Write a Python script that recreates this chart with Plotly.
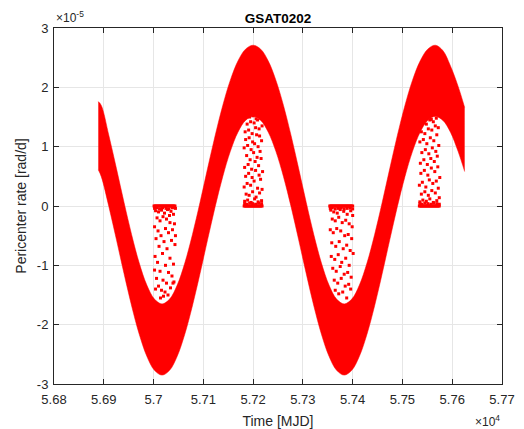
import plotly.graph_objects as go

# Envelope of the pericenter-rate band (rate in 1e-5 rad/d, time in MJD)
band_time = [56889, 56895, 56910.25, 56925.5, 56940.75, 56956, 56971.25, 56986.5, 57001.75,
             57017, 57032.25, 57047.5, 57062.75, 57078, 57093.25, 57108.5, 57123.75, 57139,
             57154.25, 57169.5, 57184.75, 57200, 57215.25, 57230.5, 57245.75, 57261, 57276.25,
             57291.5, 57306.75, 57322, 57337.25, 57352.5, 57367.75, 57383, 57398.25, 57413.5,
             57428.75, 57444, 57459.25, 57474.5, 57489.75, 57505, 57520.25, 57535.5, 57550.75,
             57566, 57581.25, 57596.5, 57611.75, 57625]
band_upper = [1.76, 1.695, 1.188, 0.63, 0.058, -0.485, -0.961, -1.333, -1.569,
              -1.65, -1.569, -1.333, -0.961, -0.485, 0.058, 0.63, 1.188, 1.695,
              2.121, 2.443, 2.643, 2.71, 2.643, 2.443, 2.121, 1.695, 1.188,
              0.63, 0.058, -0.485, -0.961, -1.333, -1.569, -1.65, -1.569, -1.333,
              -0.961, -0.485, 0.058, 0.63, 1.188, 1.695, 2.121, 2.443, 2.643,
              2.71, 2.62, 2.36, 2.02, 1.66]
band_lower = [0.61, 0.495, -0.012, -0.57, -1.142, -1.685, -2.161, -2.533, -2.769,
              -2.85, -2.769, -2.533, -2.161, -1.685, -1.142, -0.57, -0.012, 0.495,
              0.921, 1.243, 1.443, 1.51, 1.443, 1.243, 0.921, 0.495, -0.012,
              -0.57, -1.142, -1.685, -2.161, -2.533, -2.769, -2.85, -2.769, -2.533,
              -2.161, -1.685, -1.142, -0.57, -0.012, 0.495, 0.921, 1.243, 1.443,
              1.51, 1.443, 1.243, 0.921, 0.58]

# Sampled rates inside the four observation windows
win1_time = [57001, 57003, 57005, 57007, 57009, 57011, 57013, 57015, 57017, 57019, 57021,
             57023, 57025, 57027, 57029, 57031, 57033, 57035, 57037, 57039, 57041, 57043,
             57002, 57006, 57012, 57018, 57025, 57031, 57038, 57044,
             57004, 57010, 57016, 57022, 57028, 57035, 57040, 57007, 57013, 57019, 57026,
             57033, 57042, 57002, 57009, 57024, 57030, 57038, 57015, 57005, 57021, 57036,
             57011, 57027, 57043, 57003, 57018, 57033, 57008, 57024, 57040, 57002, 57013,
             57030, 57037, 57006, 57019, 57026, 57041, 57010, 57016, 57023, 57034, 57004,
             57014, 57020, 57029, 57039, 57032, 57044]
win1_rate = [0, 0, 0, 0, 0, 0, 0, 0, 0, 0, 0,
             0, 0, 0, 0, 0, 0, 0, 0, 0, 0, 0,
             -0.04, -0.03, -0.05, -0.03, -0.04, -0.05, -0.03, -0.04,
             -0.08, -0.1, -0.07, -0.12, -0.06, -0.09, -0.14, -0.2, -0.25, -0.18, -0.22,
             -0.28, -0.3, -0.35, -0.42, -0.38, -0.45, -0.4, -0.5, -0.55, -0.6, -0.58,
             -0.68, -0.72, -0.65, -0.85, -0.8, -0.88, -0.95, -1.0, -0.98, -1.08, -1.1,
             -1.12, -1.18, -1.22, -1.25, -1.3, -1.28, -1.35, -1.42, -1.45, -1.38, -1.4,
             -1.55, -1.52, -1.5, -1.3, -0.16, -0.5]

win2_time = [57182, 57184, 57186, 57188, 57190, 57192, 57194, 57196, 57198, 57200, 57202,
             57204, 57206, 57208, 57210, 57212, 57214, 57216, 57218,
             57183, 57187, 57193, 57199, 57205, 57211, 57217,
             57183, 57189, 57196, 57203, 57210, 57217, 57186, 57192, 57199, 57206, 57213,
             57218, 57182, 57188, 57195, 57202, 57209, 57215, 57185, 57191, 57198, 57205,
             57212, 57219, 57183, 57190, 57197, 57204, 57211, 57216, 57187, 57194, 57201,
             57208, 57214, 57182, 57189, 57196, 57203, 57210, 57217, 57185, 57192, 57199,
             57207, 57213, 57184, 57191, 57198, 57205, 57212, 57218, 57188, 57195, 57202,
             57209, 57215, 57193, 57200, 57206]
win2_rate = [0, 0, 0, 0, 0, 0, 0, 0, 0, 0, 0,
             0, 0, 0, 0, 0, 0, 0, 0,
             0.04, 0.03, 0.05, 0.04, 0.03, 0.05, 0.04,
             0.08, 0.1, 0.06, 0.12, 0.07, 0.09, 0.2, 0.18, 0.24, 0.15, 0.22,
             0.28, 0.32, 0.38, 0.35, 0.42, 0.3, 0.45, 0.5, 0.55, 0.48, 0.6,
             0.52, 0.58, 0.65, 0.7, 0.62, 0.75, 0.68, 0.8, 0.85, 0.78, 0.9,
             0.82, 0.92, 0.98, 1.02, 0.95, 1.05, 1.0, 1.1, 1.12, 1.15, 1.08,
             1.2, 1.18, 1.25, 1.28, 1.22, 1.32, 1.3, 1.35, 1.38, 1.42, 1.4,
             1.45, 1.48, 1.5, 1.52, 1.47]

win3_time = [57354, 57356, 57358, 57360, 57362, 57364, 57366, 57368, 57370, 57372, 57374,
             57376, 57378, 57380, 57382, 57384, 57386, 57388, 57390, 57392, 57394, 57396,
             57398, 57400,
             57355, 57359, 57365, 57371, 57377, 57383, 57389, 57395, 57400,
             57356, 57362, 57369, 57375, 57382, 57389, 57396, 57400, 57359, 57365, 57372,
             57379, 57386, 57393, 57399, 57355, 57361, 57368, 57376, 57384, 57391, 57398,
             57358, 57366, 57373, 57381, 57388, 57395, 57401, 57357, 57364, 57371, 57378,
             57386, 57393, 57360, 57367, 57375, 57383, 57390, 57397, 57363, 57370, 57377,
             57385, 57392, 57365, 57372, 57380, 57388, 57396]
win3_rate = [0, 0, 0, 0, 0, 0, 0, 0, 0, 0, 0,
             0, 0, 0, 0, 0, 0, 0, 0, 0, 0, 0,
             0, 0,
             -0.04, -0.03, -0.05, -0.04, -0.03, -0.05, -0.04, -0.03, -0.05,
             -0.07, -0.1, -0.12, -0.06, -0.09, -0.14, -0.08, -0.16, -0.22, -0.25, -0.19,
             -0.28, -0.24, -0.3, -0.35, -0.4, -0.45, -0.38, -0.42, -0.5, -0.48, -0.55,
             -0.62, -0.68, -0.6, -0.72, -0.66, -0.75, -0.8, -0.85, -0.9, -0.82, -0.95,
             -0.88, -1.0, -1.05, -1.1, -1.02, -1.15, -1.12, -1.2, -1.25, -1.3, -1.22,
             -1.35, -1.32, -1.42, -1.48, -1.45, -1.55, -1.4]

win4_time = [57534, 57536, 57538, 57540, 57542, 57544, 57546, 57548, 57550, 57552, 57554,
             57556, 57558, 57560, 57562, 57564, 57566, 57568, 57570, 57572, 57574,
             57535, 57539, 57545, 57551, 57557, 57563, 57569, 57574,
             57535, 57541, 57548, 57555, 57562, 57569, 57574, 57538, 57545, 57552, 57559,
             57566, 57572, 57534, 57540, 57547, 57554, 57561, 57568, 57575, 57537, 57544,
             57551, 57558, 57565, 57571, 57536, 57543, 57550, 57557, 57564, 57570, 57539,
             57546, 57553, 57560, 57567, 57573, 57535, 57542, 57549, 57556, 57563, 57569,
             57538, 57545, 57552, 57559, 57566, 57572, 57541, 57548, 57555, 57562, 57568,
             57544, 57551, 57558, 57565, 57560, 57563]
win4_rate = [0, 0, 0, 0, 0, 0, 0, 0, 0, 0, 0,
             0, 0, 0, 0, 0, 0, 0, 0, 0, 0,
             0.04, 0.03, 0.05, 0.04, 0.03, 0.05, 0.04, 0.03,
             0.07, 0.1, 0.08, 0.12, 0.06, 0.09, 0.14, 0.2, 0.24, 0.18, 0.26,
             0.22, 0.3, 0.35, 0.4, 0.32, 0.44, 0.38, 0.42, 0.48, 0.55, 0.6,
             0.52, 0.64, 0.58, 0.66, 0.72, 0.78, 0.7, 0.8, 0.75, 0.84, 0.9,
             0.95, 0.88, 0.98, 0.92, 1.02, 1.08, 1.12, 1.05, 1.15, 1.1, 1.2,
             1.25, 1.22, 1.3, 1.28, 1.35, 1.32, 1.4, 1.38, 1.45, 1.42, 1.48,
             1.5, 1.52, 1.46, 1.55, 1.56, 1.58]

x_ticks = [56800, 56900, 57000, 57100, 57200, 57300, 57400, 57500, 57600, 57700]
x_tick_labels = ["5.68", "5.69", "5.7", "5.71", "5.72", "5.73", "5.74", "5.75", "5.76", "5.77"]
y_ticks = [-3, -2, -1, 0, 1, 2, 3]
y_tick_labels = ["-3", "-2", "-1", "0", "1", "2", "3"]

RED = "#ff0000"
INK = "#262626"
FONT = "Liberation Sans, Arial, sans-serif"

fig = go.Figure()

# Filled band: lower envelope first, upper envelope filled down to it
fig.add_trace(go.Scatter(
    x=band_time, y=band_lower, mode="lines",
    line=dict(color=RED, width=0.5, shape="spline", smoothing=1.0),
    hoverinfo="skip", showlegend=False,
))
fig.add_trace(go.Scatter(
    x=band_time, y=band_upper, mode="lines", fill="tonexty", fillcolor=RED,
    line=dict(color=RED, width=0.5, shape="spline", smoothing=1.0),
    hoverinfo="skip", showlegend=False,
))

for wt, wr in [(win1_time, win1_rate), (win2_time, win2_rate),
               (win3_time, win3_rate), (win4_time, win4_rate)]:
    fig.add_trace(go.Scatter(
        x=wt, y=wr, mode="markers",
        marker=dict(color=RED, size=3, symbol="square", line=dict(width=0)),
        showlegend=False,
    ))

axis_common = dict(
    showline=True, linecolor=INK, linewidth=1, mirror="ticks",
    ticks="inside", ticklen=5, tickcolor=INK, tickwidth=1,
    showgrid=True, gridcolor="#e6e6e6", gridwidth=1, zeroline=False,
    tickfont=dict(family=FONT, size=13, color=INK), automargin=False,
)

fig.update_layout(
    width=524, height=429,
    margin=dict(l=54, r=22, t=28, b=45),
    paper_bgcolor="white", plot_bgcolor="white",
    title=dict(text="<b>GSAT0202</b>", x=0.5, xanchor="center", xref="paper",
               y=1, yref="paper", yanchor="bottom", pad=dict(b=5),
               font=dict(family=FONT, size=13.5, color="black")),
    xaxis=dict(range=[56800, 57700], tickvals=x_ticks, ticktext=x_tick_labels,
               ticklabelstandoff=3,
               title=dict(text="Time [MJD]", standoff=10,
                          font=dict(family=FONT, size=14, color=INK)),
               **axis_common),
    yaxis=dict(range=[-3, 3], tickvals=y_ticks, ticktext=y_tick_labels,
               ticklabelstandoff=2,
               title=dict(text="Pericenter rate [rad/d]", standoff=6,
                          font=dict(family=FONT, size=14, color=INK)),
               **axis_common),
    annotations=[
        dict(text="×10<sup>-5</sup>", xref="paper", yref="paper", x=0, y=1,
             xanchor="left", yanchor="bottom", showarrow=False, yshift=1,
             font=dict(family=FONT, size=12, color=INK)),
        dict(text="×10<sup>4</sup>", xref="paper", yref="paper", x=1, y=0,
             xanchor="right", yanchor="top", showarrow=False, yshift=-27,
             font=dict(family=FONT, size=12, color=INK)),
    ],
)

fig.write_html("out.html")
